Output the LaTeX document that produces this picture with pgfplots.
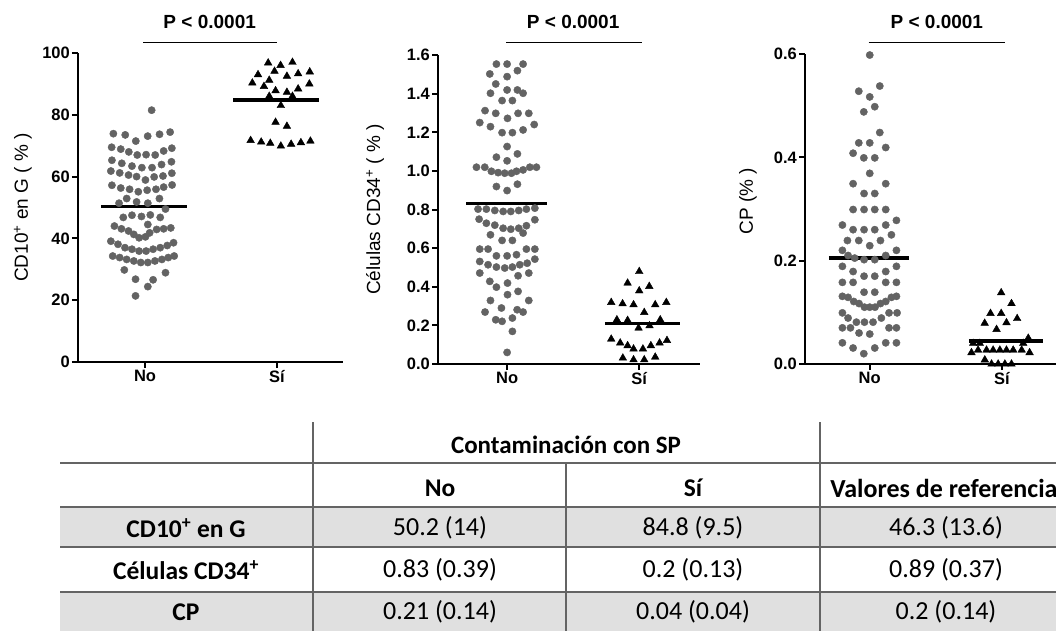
\documentclass[border=0pt]{standalone}
\usepackage{fontspec}
\setmainfont{Liberation Sans}
\newfontfamily\tabfont{Carlito}
\usepackage{pgfplots}
\pgfplotsset{compat=1.18}
\definecolor{dotgray}{RGB}{99,99,99}
\definecolor{tabfill}{RGB}{224,224,224}
\definecolor{tabline}{RGB}{100,100,100}
\tikzset{
  pline/.style={line width=0.8pt, black},
  ptext/.style={font=\fontsize{19}{23}\selectfont\bfseries},
}
\pgfplotsset{
  dotplot/.style={
    scale only axis, clip=false,
    axis x line*=bottom, axis y line*=left,
    axis line style={line width=2.4pt, black},
    every tick/.style={line width=2pt, black},
    major tick length=6pt,
    tick align=outside,
    xtick={0,1}, xticklabels={No,Sí},
    ticklabel style={font=\fontsize{16.5}{19}\selectfont\bfseries, inner sep=2pt},
    /pgf/number format/assume math mode=true,
    ylabel style={font=\fontsize{19}{22}\selectfont, anchor=center},
    ymin=0,
  },
  nodots/.style={only marks, mark=*, mark size=3.65pt, color=dotgray, mark options={draw=dotgray, fill=dotgray}},
  sidots/.style={only marks, mark=triangle*, mark size=4.4pt, color=black, mark options={draw=black, fill=black}},
  meanline/.style={line width=3.2pt, black, no marks},
}
\begin{document}
\begin{tikzpicture}
\useasboundingbox (0pt,0pt) rectangle (1056pt,-630pt);

% ---------- Chart 1 ----------
\begin{axis}[dotplot,
  at={(78pt,-362pt)}, anchor=south west,
  width=265pt, height=309pt,
  xmin=-0.508, xmax=1.5, ymax=100,
  ytick={0,20,40,60,80,100},
  ylabel={CD10\textsuperscript{+} en G ( \% )},
  ylabel style={at={(axis description cs:-0.208,0.5)}},
]
\addplot[nodots] coordinates {
(0.05,81.5)
(-0.24,73.9)(-0.15,73.5)(-0.07,71.5)(0.02,73.1)(0.11,73.7)(0.19,74.4)
(-0.253,69.5)(-0.184,68.9)(-0.123,68.0)(-0.059,67.0)(0.008,67.1)(0.077,67.0)(0.141,68.3)(0.203,69.2)
(-0.251,65.3)(-0.176,64.3)(-0.099,63.4)(-0.024,62.9)(0.053,62.9)(0.125,63.9)(0.2,64.8)
(-0.259,61.8)(-0.192,61.2)(-0.125,60.5)(-0.064,60.0)(0.003,58.9)(0.069,59.9)(0.136,60.2)(0.203,61.1)
(-0.251,57.2)(-0.184,56.3)(-0.117,55.9)(-0.051,55.1)(0.016,55.6)(0.083,55.9)(0.141,56.6)(0.205,57.3)
(-0.197,51.4)(-0.139,52.9)(-0.064,51.8)(0.021,51.4)(0.109,52.9)
(-0.165,46.8)(-0.099,47.5)(-0.027,47.1)(0.04,47.6)(0.115,46.8)(0.155,49.5)
(-0.232,44.0)(-0.179,43.1)(-0.125,42.4)(-0.085,41.3)(-0.045,40.2)(0.003,40.5)(0.021,44.5)(0.035,41.8)(0.088,42.9)(0.141,43.1)(0.195,43.4)
(-0.259,39.1)(-0.205,38.1)(-0.152,37.0)(-0.099,36.5)(-0.045,35.9)(0.008,35.9)(0.061,36.5)(0.115,37.0)(0.168,37.7)(0.216,38.6)
(-0.245,34.3)(-0.192,33.8)(-0.139,33.2)(-0.085,32.7)(-0.032,32.2)(0.021,32.2)(0.075,32.7)(0.128,33.2)(0.176,33.8)(0.221,34.3)
(-0.157,29.8)(0.155,28.9)(-0.072,26.8)(0.061,26.6)(0.021,24.4)(-0.072,21.4)
};
\addplot[sidots] coordinates {
(0.933,96.8)(1.027,96.0)(1.117,97.0)
(0.856,93.0)(0.981,94.1)(1.075,92.5)(1.16,93.3)(1.248,93.9)
(0.813,90.3)(0.941,91.2)(0.901,89.2)(1.245,90.0)
(0.989,87.8)(1.075,87.3)(1.16,88.4)
(0.941,86.0)(1.117,86.0)
(1.029,83.0)
(0.989,77.6)(1.075,76.3)
(0.8,71.7)(0.88,71.2)(0.949,70.8)(1.029,69.9)(1.107,70.5)(1.181,71.0)(1.253,71.5)
};
\addplot[meanline] coordinates {(-0.33,50.2) (0.32,50.2)};
\addplot[meanline] coordinates {(0.67,84.8) (1.32,84.8)};
\draw[pline] (axis cs:-0.015,103.5) -- (axis cs:1.0,103.5);
\node[ptext] at (axis cs:0.49,110) {P < 0.0001};
\end{axis}

% ---------- Chart 2 ----------
\begin{axis}[dotplot,
  at={(438pt,-364pt)}, anchor=south west,
  width=262pt, height=309pt,
  xmin=-0.523, xmax=1.46, ymax=1.6,
  ytick={0,0.2,0.4,0.6,0.8,1.0,1.2,1.4,1.6},
  yticklabel style={/pgf/number format/.cd, fixed, fixed zerofill, precision=1},
  ylabel={Células CD34\textsuperscript{+} ( \% )},
  ylabel style={at={(axis description cs:-0.24,0.5)}},
]
\addplot[nodots] coordinates {
(-0.081,1.553)(0,1.553)(0.121,1.553)
(-0.131,1.502)(0.078,1.519)
(-0.086,1.450)(0,1.488)
(-0.126,1.402)(0,1.419)(0.078,1.419)(0.121,1.402)
(-0.038,1.364)(0.04,1.364)
(-0.167,1.312)(-0.086,1.298)(0.003,1.272)(0.083,1.298)(0.164,1.298)
(-0.207,1.25)(-0.126,1.229)(-0.038,1.198)(0.04,1.198)(0.121,1.212)(0.205,1.240)
(0,1.126)
(-0.081,1.071)(0.078,1.088)(0,1.052)
(-0.232,1.019)(-0.169,1.019)(-0.119,0.998)(-0.068,0.991)(-0.018,0.988)(0.033,0.988)(0.071,0.998)(0.121,1.005)(0.172,1.019)(0.222,1.019)
(-0.081,0.919)(0.078,0.931)(0,0.898)
(-0.22,0.802)(-0.157,0.802)(-0.093,0.795)(-0.03,0.790)(0.028,0.790)(0.088,0.795)(0.146,0.802)(0.21,0.807)
(-0.212,0.750)(-0.157,0.729)(-0.093,0.719)(-0.03,0.703)(0.028,0.698)(0.088,0.703)(0.146,0.716)(0.21,0.747)
(-0.126,0.669)(-0.038,0.640)(0.04,0.640)(0.121,0.678)
(-0.207,0.595)(-0.144,0.595)(-0.081,0.560)(0,0.560)(0.071,0.566)(0.146,0.595)(0.21,0.595)
(-0.207,0.531)(-0.144,0.514)(-0.081,0.502)(-0.018,0.497)(0.04,0.502)(0.096,0.514)(0.152,0.522)(0.21,0.543)
(-0.207,0.471)(-0.131,0.428)(-0.081,0.398)(0.003,0.419)(0.083,0.457)(0.164,0.471)
(-0.126,0.329)(0.003,0.359)(0.083,0.376)(0.164,0.329)
(-0.167,0.269)(-0.043,0.290)(0.04,0.238)(0.121,0.269)(0.076,0.281)
(-0.086,0.229)(-0.038,0.221)
(0.04,0.169)
(0,0.060)
};
\addplot[sidots] coordinates {
(1,0.479)
(0.912,0.419)(1.076,0.402)(1,0.379)
(0.788,0.319)(0.874,0.312)(0.957,0.307)(1.038,0.267)(1.121,0.307)(1.205,0.319)
(0.831,0.229)(0.912,0.226)(0.995,0.186)(1.078,0.198)(1.159,0.229)
(0.788,0.129)(0.856,0.109)(0.912,0.095)(0.957,0.078)(1.028,0.078)(1.088,0.095)(1.154,0.109)(1.21,0.122)
(0.876,0.031)(0.957,0.022)(1.038,0.022)(1.121,0.036)
};
\addplot[meanline] coordinates {(-0.31,0.833) (0.30,0.833)};
\addplot[meanline] coordinates {(0.74,0.209) (1.31,0.209)};
\draw[pline] (axis cs:-0.008,1.667) -- (axis cs:1.023,1.667);
\node[ptext] at (axis cs:0.5,1.771) {P < 0.0001};
\end{axis}

% ---------- Chart 3 ----------
\begin{axis}[dotplot,
  at={(805pt,-364pt)}, anchor=south west,
  width=251pt, height=310pt,
  xmin=-0.49, xmax=1.41, ymax=0.6,
  ytick={0,0.2,0.4,0.6},
  yticklabel style={/pgf/number format/.cd, fixed, fixed zerofill, precision=1},
  ylabel={CP (\% )},
  ylabel style={at={(axis description cs:-0.227,0.526)}},
]
\addplot[nodots] coordinates {
(0,0.598)
(-0.083,0.528)(0,0.517)(0.076,0.538)
(-0.045,0.488)(0.038,0.498)
(0.076,0.448)
(-0.083,0.428)(0,0.428)(0.121,0.419)(-0.126,0.408)(-0.045,0.399)(0.038,0.399)
(0,0.369)
(-0.126,0.349)(0.121,0.349)
(-0.043,0.330)(0.038,0.330)
(-0.126,0.299)(-0.043,0.299)(0.038,0.299)(0.121,0.299)
(-0.207,0.269)(0.202,0.278)(0.121,0.269)
(-0.126,0.260)(-0.043,0.260)(0.038,0.260)(0.164,0.250)
(-0.169,0.239)(-0.083,0.239)(0,0.229)(0.081,0.239)
(-0.207,0.220)(-0.164,0.210)(-0.114,0.205)(-0.043,0.202)(0.038,0.202)(0.121,0.210)(0.202,0.220)
(-0.207,0.189)(-0.126,0.179)(-0.043,0.170)(0.038,0.170)(0.121,0.179)(0.202,0.189)
(-0.207,0.158)(-0.126,0.158)(-0.043,0.139)(0.038,0.139)(0.121,0.158)(0.202,0.158)
(-0.207,0.131)(-0.164,0.129)(-0.121,0.121)(-0.081,0.117)(-0.04,0.110)(0,0.110)(0.04,0.110)(0.081,0.117)(0.121,0.121)(0.164,0.129)(0.202,0.131)
(-0.207,0.099)(-0.164,0.089)(-0.101,0.081)(-0.04,0.081)(0.025,0.081)(0.088,0.089)(0.146,0.099)(0.207,0.099)
(-0.207,0.070)(-0.146,0.070)(-0.081,0.060)(0,0.058)(0.146,0.070)(0.202,0.070)
(-0.207,0.041)(-0.126,0.031)(0.038,0.031)(0.121,0.041)(0.202,0.041)
(-0.045,0.020)
};
\addplot[sidots] coordinates {
(0.995,0.138)(1.073,0.117)(0.914,0.098)(0.995,0.098)(1.116,0.088)(0.87,0.079)(1.035,0.080)(0.96,0.067)(1.2,0.050)
(0.783,0.040)(0.833,0.040)(1.162,0.040)
(0.77,0.022)(0.82,0.027)(0.884,0.027)(0.934,0.027)(0.985,0.027)(1.035,0.027)(1.086,0.027)(1.15,0.027)(1.21,0.022)
(0.871,0.008)
(0.922,0.0)(0.972,0.0)(1.023,0.0)(1.073,0.0)
};
\addplot[meanline] coordinates {(-0.31,0.205) (0.30,0.205)};
\addplot[meanline] coordinates {(0.75,0.0445) (1.31,0.0445)};
\draw[pline] (axis cs:-0.008,0.6232) -- (axis cs:1.023,0.6232);
\node[ptext] at (axis cs:0.508,0.662) {P < 0.0001};
\end{axis}

% ---------- Table ----------
\begin{scope}[x=1pt,y=-1pt]
\fill[tabfill] (60,507) rectangle (1060,547);
\fill[tabfill] (60,592) rectangle (1060,632);
\foreach \yy in {463,507,547,592} {
  \draw[tabline, line width=2.5pt] (60,\yy) -- (1060,\yy);
}
\draw[tabline, line width=1.5pt] (313,422) -- (313,632);
\draw[tabline, line width=1.5pt] (820,422) -- (820,632);
\draw[tabline, line width=1.5pt] (566,463) -- (566,632);
\begin{scope}[every node/.style={font=\tabfont\fontsize{26}{30}\selectfont, anchor=center}]
\node[font=\tabfont\bfseries\fontsize{25}{29}\selectfont] at (566,445) {Contaminación con SP};
\node[font=\tabfont\bfseries\fontsize{25.5}{29}\selectfont] at (440,488) {No};
\node[font=\tabfont\bfseries\fontsize{25.5}{29}\selectfont] at (693,488) {Sí};
\node[font=\tabfont\bfseries\fontsize{26}{30}\selectfont] at (944,488) {Valores de referencia};
\node[font=\tabfont\bfseries\fontsize{25.5}{29}\selectfont] at (186,528) {CD10\textsuperscript{+} en G};
\node[font=\tabfont\bfseries\fontsize{25.5}{29}\selectfont] at (186,570) {Células CD34\textsuperscript{+}};
\node[font=\tabfont\bfseries\fontsize{25.5}{29}\selectfont] at (186,612) {CP};
\node at (440,528) {50.2 (14)};
\node at (693,528) {84.8 (9.5)};
\node at (946,528) {46.3 (13.6)};
\node at (440,570) {0.83 (0.39)};
\node at (693,570) {0.2 (0.13)};
\node at (946,570) {0.89 (0.37)};
\node at (440,612) {0.21 (0.14)};
\node at (693,612) {0.04 (0.04)};
\node at (946,612) {0.2 (0.14)};
\end{scope}
\end{scope}
\end{tikzpicture}
\end{document}
